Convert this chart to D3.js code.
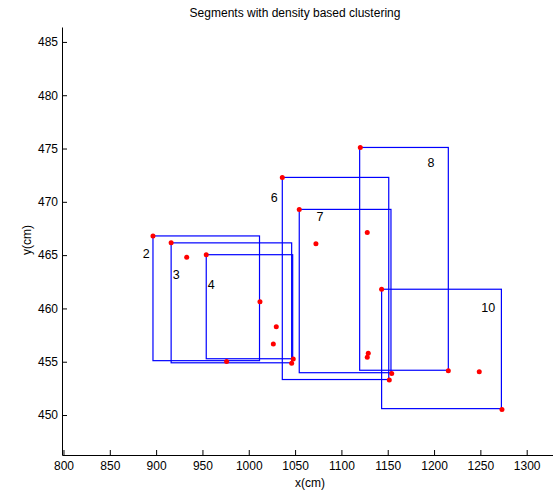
<!DOCTYPE html>
<html>
<head>
<meta charset="utf-8">
<script src="https://cdn.jsdelivr.net/npm/d3@7"></script>
<style>
  body { margin: 0; background: #fff; }
  svg { font-family: "Liberation Sans", Arial, sans-serif; }
  .axis text { font-size: 12px; fill: #000; }
  .axis path, .axis line { stroke: #000; }
</style>
</head>
<body>
<div class="chart"></div>
<script>
// cluster points (red dots)
var pointX = [896.6, 916.2, 933.0, 954.1, 1012.1, 1029.7, 1026.5, 976.1, 1048.0, 1046.3,
              1036.2, 1054.5, 1072.5, 1120.4, 1127.9,
              1143.4, 1129.0, 1127.9, 1154.3, 1151.7, 1215.4, 1248.8, 1273.3];
var pointY = [466.8, 466.15, 464.8, 465.04, 460.63, 458.28, 456.66, 455.03, 455.25, 454.85,
              472.29, 469.29, 466.06, 475.1, 467.13,
              461.81, 455.79, 455.41, 453.9, 453.28, 454.15, 454.06, 450.53];

// segment boxes
var segNames = ["2", "3", "4", "6", "7", "8", "10"];
var segX0 = [896.6, 916.2, 954.1, 1036.2, 1054.5, 1119.7, 1143.4];
var segX1 = [1011.6, 1046.3, 1047.4, 1151.1, 1153.5, 1215.4, 1272.7];
var segY0 = [455.1, 454.9, 455.28, 453.33, 453.97, 454.2, 450.6];
var segY1 = [466.8, 466.15, 465.04, 472.29, 469.29, 475.1, 461.8];
var labelX = [889.4, 921.8, 959.5, 1027.5, 1076.9, 1196.7, 1258.5];
var labelY = [465.09, 463.13, 462.24, 470.37, 468.59, 473.63, 460.03];

var xTicks = [800, 850, 900, 950, 1000, 1050, 1100, 1150, 1200, 1250, 1300];
var yTicks = [450, 455, 460, 465, 470, 475, 480, 485];

var svgWidth = 553, svgHeight = 495;
var margin = { top: 27, right: 0, bottom: 40, left: 62 };
var width = svgWidth - margin.left - margin.right;
var height = svgHeight - margin.top - margin.bottom;

var svg = d3.select(".chart").append("svg")
    .attr("width", svgWidth)
    .attr("height", svgHeight);

var chartGroup = svg.append("g")
    .attr("transform", `translate(${margin.left}, ${margin.top})`);

var xScale = d3.scaleLinear().domain([798.4, 1328.4]).range([0, width]);
var yScale = d3.scaleLinear().domain([446.25, 486.4]).range([height, 0]);

// axes, MATLAB style ticks pointing inward
chartGroup.append("g")
    .attr("class", "axis")
    .attr("transform", `translate(0, ${height})`)
    .call(d3.axisBottom(xScale).tickValues(xTicks).tickFormat(d3.format("d"))
        .tickSizeInner(-5).tickSizeOuter(0).tickPadding(6));

chartGroup.append("g")
    .attr("class", "axis")
    .call(d3.axisLeft(yScale).tickValues(yTicks).tickFormat(d3.format("d"))
        .tickSizeInner(-5).tickSizeOuter(0).tickPadding(4));

// segment rectangles
var segs = segNames.map(function(n, i) {
    return { name: n, x0: segX0[i], x1: segX1[i], y0: segY0[i], y1: segY1[i], lx: labelX[i], ly: labelY[i] };
});

chartGroup.selectAll("rect.seg")
    .data(segs)
    .enter()
    .append("rect")
    .attr("class", "seg")
    .attr("x", d => xScale(d.x0))
    .attr("y", d => yScale(d.y1))
    .attr("width", d => xScale(d.x1) - xScale(d.x0))
    .attr("height", d => yScale(d.y0) - yScale(d.y1))
    .attr("fill", "none")
    .attr("stroke", "#0000ff")
    .attr("stroke-width", 1.2);

chartGroup.selectAll("text.seglabel")
    .data(segs)
    .enter()
    .append("text")
    .attr("class", "seglabel")
    .attr("x", d => xScale(d.lx))
    .attr("y", d => yScale(d.ly))
    .attr("text-anchor", "middle")
    .attr("dominant-baseline", "central")
    .attr("font-size", "12.5px")
    .text(d => d.name);

// points
chartGroup.selectAll("circle")
    .data(pointX.map((x, i) => ({ x: x, y: pointY[i] })))
    .enter()
    .append("circle")
    .attr("cx", d => xScale(d.x))
    .attr("cy", d => yScale(d.y))
    .attr("r", 2.5)
    .attr("fill", "#ff0000");

// title and axis labels
svg.append("text")
    .attr("x", 295)
    .attr("y", 17)
    .attr("text-anchor", "middle")
    .attr("font-size", "12px")
    .text("Segments with density based clustering");

svg.append("text")
    .attr("x", 310)
    .attr("y", 487)
    .attr("text-anchor", "middle")
    .attr("font-size", "12px")
    .text("x(cm)");

svg.append("text")
    .attr("transform", "translate(27, 240) rotate(-90)")
    .attr("text-anchor", "middle")
    .attr("dominant-baseline", "central")
    .attr("font-size", "12px")
    .text("y(cm)");
</script>
</body>
</html>
